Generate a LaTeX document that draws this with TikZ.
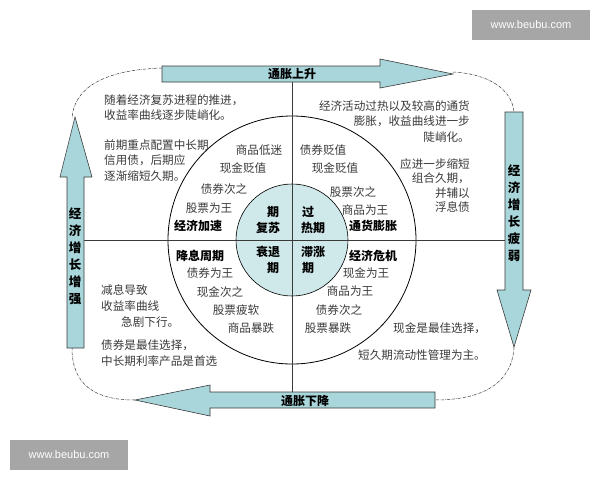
\documentclass[tikz,border=0pt]{standalone}
\usepackage{fontspec}
\setmainfont{Liberation Sans}
\newfontfamily\cjk{Noto Sans CJK SC}
\usetikzlibrary{calc}
\definecolor{arrowfill}{HTML}{A9D6DA}
\definecolor{inner}{HTML}{CFE8EA}
\definecolor{ink}{HTML}{3A3A3A}

\begin{document}
\begin{tikzpicture}[x=1pt,y=-1pt,
    arrowshape/.style={draw=ink,fill=arrowfill,line width=0.6pt},
    quadtext/.style={font=\cjk\fontsize{11.6}{15.5}\selectfont,text=ink,inner sep=0pt},
    boldtext/.style={font=\cjk\bfseries\fontsize{12}{15.5}\selectfont,inner sep=0pt},
    looppath/.style={densely dash dot,ink,line width=0.5pt},
    sitebox/.style={fill=black!35,text=white,font=\fontsize{11}{12}\selectfont,inner sep=0pt}]
    \useasboundingbox (0,0) rectangle (600,480);

    % Circles and axes
    \coordinate (c) at (292,240);
    \draw[line width=0.8pt] (c) circle (124);
    \draw[line width=0.6pt,fill=inner] (c) circle (56);
    \draw[line width=0.6pt,ink] (68,240) -- (520,240);
    \draw[line width=0.6pt,ink] (292,75) -- (292,405);

    % Dashed loop
    \draw[looppath] (162,68) .. controls (100,70) and (74,90) .. (72,118);
    \draw[looppath] (453,72) .. controls (490,74) and (512,90) .. (514,112);
    \draw[looppath] (514,347) .. controls (512,385) and (480,400) .. (435,400);
    \draw[looppath] (135,400) .. controls (95,400) and (72,385) .. (72,348);

    % Arrows
    \draw[arrowshape] (162,66) -- (380,66) -- (380,59) -- (453,74) -- (380,88) -- (380,82) -- (162,82) -- cycle;
    \draw[arrowshape] (505,112) -- (523,112) -- (523,290) -- (531,290) -- (514,347) -- (497,290) -- (505,290) -- cycle;
    \draw[arrowshape] (67,348) -- (67,177) -- (60,177) -- (75,117) -- (92,177) -- (84,177) -- (84,348) -- cycle;
    \draw[arrowshape] (435,392) -- (210,392) -- (210,385) -- (135,400) -- (210,416) -- (210,408) -- (435,408) -- cycle;
    \node[boldtext] (up) at (292,74) {通胀上升};
    \node[boldtext] (down) at (305,401) {通胀下降};
    \node[boldtext,align=center,font=\cjk\bfseries\fontsize{12.5}{17}\selectfont] (weak) at (514,213) {经\\济\\增\\长\\疲\\弱};
    \node[boldtext,align=center,font=\cjk\bfseries\fontsize{12.5}{17}\selectfont] (strong) at (75,256) {经\\济\\增\\长\\增\\强};

    % Inner circle
    \node[boldtext] (q1) at (273,212) {期};
    \node[boldtext] (q2) at (268,228) {复苏};
    \node[boldtext] (q3) at (268,252) {衰退};
    \node[boldtext] (q4) at (273,268) {期};
    \node[boldtext] (p1) at (308,212) {过};
    \node[boldtext] (p2) at (313,228) {热期};
    \node[boldtext] (p3) at (313,252) {滞涨};
    \node[boldtext] (p4) at (308,268) {期};

    % Ring texts
    \node[quadtext] at (259,150) {商品低迷};
    \node[quadtext] at (243,168) {现金贬值};
    \node[quadtext] at (224,189) {债券次之};
    \node[quadtext] at (209,208) {股票为王};
    \node[boldtext] at (198,226) {经济加速};
    \node[quadtext] at (323,150) {债券贬值};
    \node[quadtext] at (335,168) {现金贬值};
    \node[quadtext] at (353,192) {股票次之};
    \node[quadtext] at (365,210) {商品为王};
    \node[boldtext] at (373,226) {通货膨胀};
    \node[boldtext] at (200,256) {降息周期};
    \node[quadtext] at (210,273) {债券为王};
    \node[quadtext] at (220,292) {现金次之};
    \node[quadtext] at (236,310) {股票疲软};
    \node[quadtext] at (251,328) {商品暴跌};
    \node[boldtext] at (373,256) {经济危机};
    \node[quadtext] at (366,273) {现金为王};
    \node[quadtext] at (350,291) {商品为王};
    \node[quadtext] at (339,310) {债券次之};
    \node[quadtext] at (328,328) {股票暴跌};

    % Outer texts
    \node[quadtext,align=left,anchor=north west] at (104,94) {随着经济复苏进程的推进，\\收益率曲线逐步陡峭化。};
    \node[quadtext,align=left,anchor=north west] at (104,139) {前期重点配置中长期\\信用债，后期应\\逐渐缩短久期。};
    \node[quadtext,align=right,anchor=north east] at (470,100) {经济活动过热以及较高的通货\\膨胀，收益曲线进一步\\陡峭化。};
    \node[quadtext,align=right,anchor=north east,font=\cjk\fontsize{11.6}{14.5}\selectfont] at (470,158) {应进一步缩短\\组合久期，\\并辅以\\浮息债};
    \node[quadtext,anchor=west] at (101,290) {减息导致};
    \node[quadtext,anchor=west] at (101,306) {收益率曲线};
    \node[quadtext,anchor=west] at (121,322) {急剧下行。};
    \node[quadtext,align=left,anchor=north west] at (101,340) {债券是最佳选择，\\中长期利率产品是首选};
    \node[quadtext,anchor=west] at (393,328) {现金是最佳选择，};
    \node[quadtext,anchor=west] at (358,355) {短久期流动性管理为主。};

    % Site marks
    \node[sitebox,minimum width=118,minimum height=30] (site1) at (531,25) {www.beubu.com};
    \node[sitebox,minimum width=118,minimum height=30] (site2) at (69,455) {www.beubu.com};
\end{tikzpicture}
\end{document}
